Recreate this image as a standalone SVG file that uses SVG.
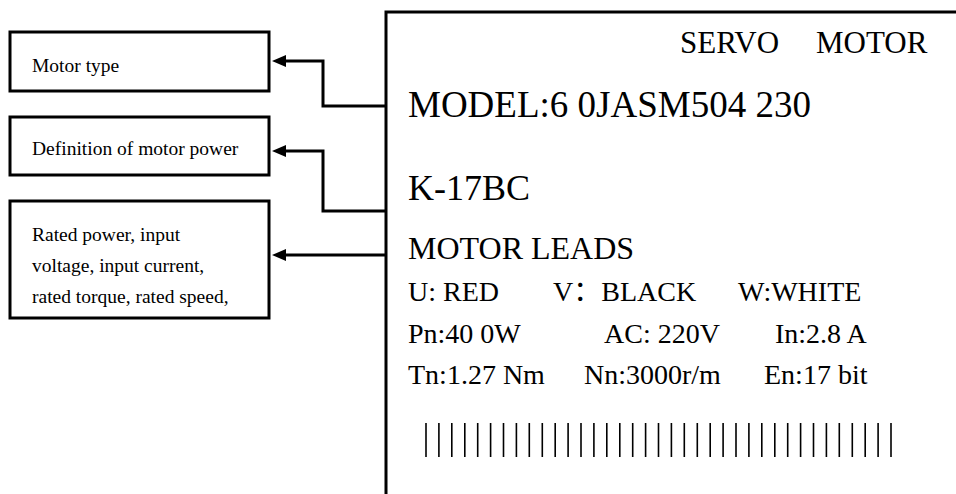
<svg xmlns="http://www.w3.org/2000/svg" width="956" height="494" viewBox="0 0 956 494">
<style>
.box{fill:#fff;stroke:#000;stroke-width:3}
.lbl{font-family:'Liberation Serif','DejaVu Serif',serif;font-size:19.5px;fill:#000}
.plate{font-family:'Liberation Serif','DejaVu Serif',serif;fill:#000}
.cjk{font-family:'Noto Sans CJK SC',sans-serif}
.row{font-size:28px}
.conn{fill:none;stroke:#000;stroke-width:3}
.bars{fill:none;stroke:#000;stroke-width:1.6}
</style>
<defs>
<marker id="arrow" viewBox="0 0 14 12" refX="1" refY="6" markerWidth="14" markerHeight="12" markerUnits="userSpaceOnUse" orient="auto">
<path d="M0,0 L14,6 L0,12 z" fill="#000"/>
</marker>
</defs>
<rect width="956" height="494" fill="#fff"/>

<g id="motor-type">
<rect class="box" x="10" y="32" width="259" height="59"/>
<text class="lbl" x="32" y="72">Motor type</text>
</g>

<g id="motor-power">
<rect class="box" x="10" y="117" width="259" height="58"/>
<text class="lbl" x="32" y="155">Definition of motor power</text>
</g>

<g id="rated-params">
<rect class="box" x="10" y="201" width="259" height="117"/>
<text class="lbl" x="32" y="241">Rated power, input</text>
<text class="lbl" x="32" y="272">voltage, input current,</text>
<text class="lbl" x="32" y="303">rated torque, rated speed,</text>
</g>

<g id="nameplate">
<path d="M386,494 V12 H956" fill="none" stroke="#000" stroke-width="3"/>
<text class="plate" font-size="31" y="53"><tspan x="680">SERVO</tspan><tspan x="816">MOTOR</tspan></text>
<text class="plate" font-size="37" x="408" y="117">MODEL:6 0JASM504 230</text>
<text class="plate" font-size="36" x="408" y="200">K-17BC</text>
<text class="plate" font-size="32" x="408" y="259">MOTOR LEADS</text>
<text class="plate row" x="408" y="301">U: RED</text>
<text class="plate row" x="553" y="301">V<tspan class="cjk">：</tspan>BLACK</text>
<text class="plate row" x="738" y="301">W:WHITE</text>
<text class="plate row" x="408" y="343">Pn:40 0W</text>
<text class="plate row" x="604" y="343">AC: 220V</text>
<text class="plate row" x="775" y="343">In:2.8 A</text>
<text class="plate row" x="408" y="384">Tn:1.27 Nm</text>
<text class="plate row" x="584" y="384">Nn:3000r/m</text>
<text class="plate row" x="764" y="384">En:17 bit</text>
<path class="bars" d="M426,423V457M438.9,423V457M451.8,423V457M464.8,423V457M477.7,423V457M490.6,423V457M503.5,423V457M516.4,423V457M529.3,423V457M542.3,423V457M555.2,423V457M568.1,423V457M581,423V457M593.9,423V457M606.8,423V457M619.8,423V457M632.7,423V457M645.6,423V457M658.5,423V457M671.4,423V457M684.3,423V457M697.3,423V457M710.2,423V457M723.1,423V457M736,423V457M748.9,423V457M761.8,423V457M774.8,423V457M787.7,423V457M800.6,423V457M813.5,423V457M826.4,423V457M839.3,423V457M852.3,423V457M865.2,423V457M878.1,423V457M891,423V457"/>
</g>

<g id="connectors">
<path class="conn" d="M386,106 H323 V61 H285" marker-end="url(#arrow)"/>
<path class="conn" d="M386,211 H323 V151 H285" marker-end="url(#arrow)"/>
<path class="conn" d="M386,255 H285" marker-end="url(#arrow)"/>
</g>
</svg>
